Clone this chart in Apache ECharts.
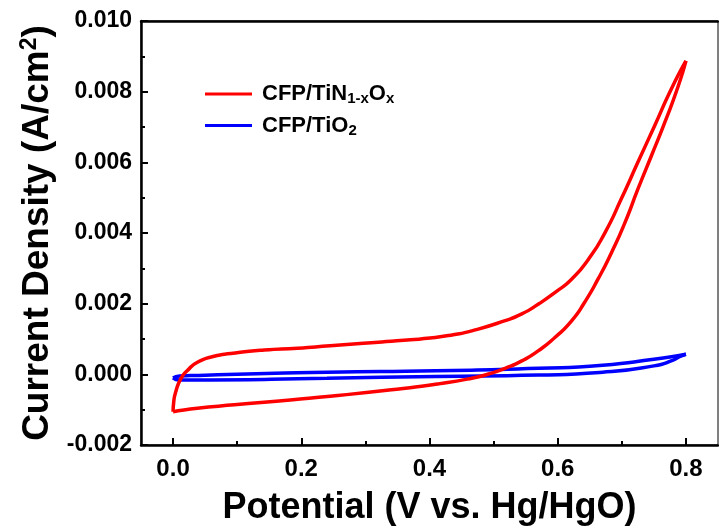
<!DOCTYPE html>
<html><head><meta charset="utf-8">
<script src="https://cdn.jsdelivr.net/npm/echarts@6/dist/echarts.min.js"></script>
<style>html,body{margin:0;padding:0;background:#fff}#c{width:719px;height:531px}</style>
</head><body><div id="c"></div>
<script>
// ---- data ----
const tinName = 'CFP/TiN1-xOx';
const tioName = 'CFP/TiO2';
// CFP/TiN(1-x)O(x): forward (upper) branch 0 -> 0.8 V
const tinFwdV = [0.000, 0.001, 0.004, 0.012, 0.022, 0.038, 0.064, 0.090, 0.142, 0.194, 0.245, 0.297, 0.349, 0.401, 0.437, 0.466, 0.518, 0.544, 0.570, 0.596, 0.622, 0.648, 0.674, 0.699, 0.725, 0.751, 0.777, 0.800];
const tinFwdJ = [-0.00106, -0.00079, -0.00051, -0.00013, 0.00010, 0.00034, 0.00051, 0.00059, 0.00069, 0.00074, 0.00081, 0.00088, 0.00095, 0.00103, 0.00112, 0.00123, 0.00152, 0.00171, 0.00199, 0.00232, 0.00270, 0.00326, 0.00402, 0.00496, 0.00600, 0.00703, 0.00807, 0.00887];
// reverse (lower) branch 0.8 -> 0 V
const tinRevV = [0.800, 0.788, 0.767, 0.746, 0.725, 0.705, 0.684, 0.663, 0.642, 0.622, 0.596, 0.570, 0.544, 0.518, 0.492, 0.466, 0.414, 0.349, 0.245, 0.142, 0.038, 0.000];
const tinRevJ = [0.00887, 0.00816, 0.00713, 0.00618, 0.00524, 0.00430, 0.00345, 0.00270, 0.00204, 0.00152, 0.00105, 0.00067, 0.00038, 0.00017, 0.00001, -0.00011, -0.00027, -0.00042, -0.00062, -0.00079, -0.00096, -0.00106];
// CFP/TiO2
const tioFwdV = [0.000, 0.010, 0.040, 0.100, 0.240, 0.410, 0.570, 0.670, 0.750, 0.800];
const tioFwdJ = [-0.00010, -0.00005, -0.00003, 0.00000, 0.00006, 0.00010, 0.00017, 0.00026, 0.00043, 0.00057];
const tioRevV = [0.800, 0.790, 0.780, 0.750, 0.670, 0.570, 0.410, 0.240, 0.040, 0.010, 0.000];
const tioRevJ = [0.00057, 0.00050, 0.00040, 0.00024, 0.00006, -0.00002, -0.00006, -0.00011, -0.00016, -0.00016, -0.00010];
// axis ticks
const xMajorTicks = [0.0, 0.2, 0.4, 0.6, 0.8];
const xMinorTicks = [0.1, 0.3, 0.5, 0.7];

const FONT = '"Liberation Sans", Arial, sans-serif';
const pairs = (xs, ys) => xs.map((x, i) => [x, ys[i]]);

const chart = echarts.init(document.getElementById('c'), null, {renderer: 'canvas'});
const lineSeries = (name, data, color, z) => ({
  type: 'line', name, data, symbol: 'none', smooth: 0.6, z,
  lineStyle: {color, width: 3.5}, itemStyle: {color}, emphasis: {disabled: true}
});
const xBase = {type: 'value', min: -0.05, max: 0.85, splitLine: {show: false}};
chart.setOption({
  animation: false,
  backgroundColor: '#fff',
  grid: {left: 141, right: 1, top: 21, bottom: 85, show: true, borderColor: '#000', borderWidth: 1, backgroundColor: 'transparent'},
  legend: {
    orient: 'vertical', left: 200, top: 78, itemWidth: 47, itemHeight: 3, itemGap: 8,
    data: [{name: tinName, icon: 'rect'}, {name: tioName, icon: 'rect'}],
    formatter: n => n === tinName ? '{f|CFP/TiN}{s|1-x}{b|O}{s|x}' : '{f|CFP/TiO}{s|2}',
    textStyle: {
      color: '#000', fontFamily: FONT,
      rich: {
        f: {fontSize: 22, fontWeight: 'bold', fontFamily: FONT, color: '#000', padding: [0, 0, 0, 5]},
        b: {fontSize: 22, fontWeight: 'bold', fontFamily: FONT, color: '#000'},
        s: {fontSize: 15, fontWeight: 'bold', fontFamily: FONT, color: '#000', padding: [10, 0, 0, 0]}
      }
    }
  },
  xAxis: [
    Object.assign({}, xBase, {
      position: 'bottom',
      axisLine: {onZero: false, lineStyle: {color: '#000', width: 2.5}},
      axisTick: {inside: true, length: 7, customValues: xMajorTicks, lineStyle: {color: '#000', width: 2}},
      axisLabel: {customValues: xMajorTicks, formatter: v => v.toFixed(1), fontSize: 24, fontWeight: 'bold', color: '#000', fontFamily: FONT, margin: 12},
      name: 'Potential (V vs. Hg/HgO)', nameLocation: 'middle', nameGap: 45,
      nameTextStyle: {fontSize: 36, fontWeight: 'bold', color: '#000', fontFamily: FONT}
    }),
    Object.assign({}, xBase, {
      position: 'bottom',
      axisLine: {show: false, onZero: false},
      axisTick: {inside: true, length: 4, customValues: xMinorTicks, lineStyle: {color: '#000', width: 2}},
      axisLabel: {show: false}
    }),
    Object.assign({}, xBase, {
      position: 'top',
      axisLine: {onZero: false, lineStyle: {color: '#000', width: 2.5}},
      axisTick: {show: false}, axisLabel: {show: false}
    })
  ],
  yAxis: {
    type: 'value', min: -0.002, max: 0.010, interval: 0.002,
    axisLine: {show: true, onZero: false, lineStyle: {color: '#000', width: 2.5}},
    axisTick: {inside: true, length: 7, lineStyle: {color: '#000', width: 2}},
    minorTick: {show: true, splitNumber: 2, length: 4, lineStyle: {color: '#000', width: 2}},
    splitLine: {show: false}, minorSplitLine: {show: false},
    axisLabel: {formatter: v => v.toFixed(3), fontSize: 23, fontWeight: 'bold', color: '#000', fontFamily: FONT, margin: 9},
    name: '{t|Current Density (A/cm}{p|2}{t|)}', nameLocation: 'middle', nameGap: 81,
    nameTextStyle: {
      color: '#000', fontFamily: FONT,
      rich: {
        t: {fontSize: 37, fontWeight: 'bold', fontFamily: FONT, color: '#000'},
        p: {fontSize: 23, fontWeight: 'bold', fontFamily: FONT, color: '#000', padding: [0, 0, 15, 0]}
      }
    }
  },
  series: [
    lineSeries(tinName, pairs(tinFwdV, tinFwdJ), '#ff0000', 4),
    lineSeries(tinName, pairs(tinRevV, tinRevJ), '#ff0000', 4),
    lineSeries(tioName, pairs(tioFwdV, tioFwdJ), '#0000ff', 3),
    lineSeries(tioName, pairs(tioRevV, tioRevJ), '#0000ff', 3)
  ]
});
</script></body></html>
